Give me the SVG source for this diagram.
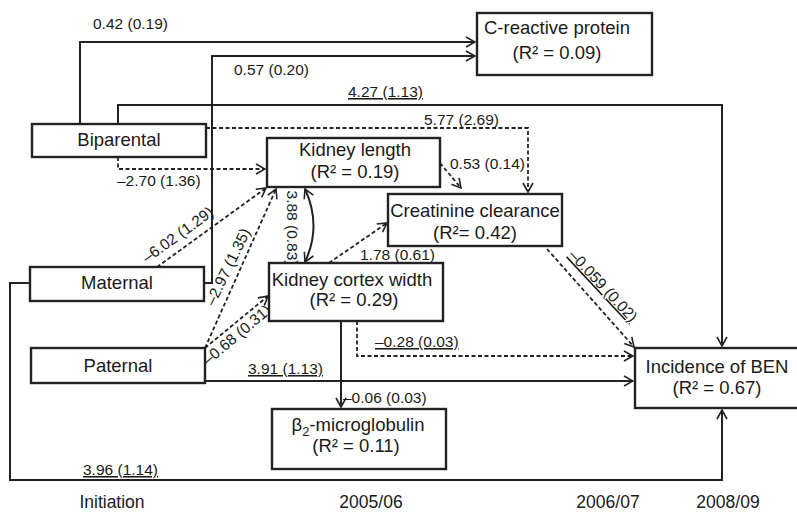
<svg xmlns="http://www.w3.org/2000/svg" width="797" height="514" viewBox="0 0 797 514">
<defs>
<marker id="ah" viewBox="0 0 12 12" refX="11" refY="6" markerWidth="12" markerHeight="12" markerUnits="userSpaceOnUse" orient="auto-start-reverse">
<path d="M2,1 L11,6 L2,11" fill="none" stroke="#222" stroke-width="1.6"/>
</marker>
</defs>
<style>
.box{fill:#fff;stroke:#222;stroke-width:2.4}
.nt{font-family:"Liberation Sans",Arial,sans-serif;font-size:18.5px;fill:#1a1a1a;text-anchor:middle}
.lb{font-family:"Liberation Sans",Arial,sans-serif;font-size:15.5px;fill:#1a1a1a}
.ul{text-decoration:underline}
.ax{font-family:"Liberation Sans",Arial,sans-serif;font-size:17.5px;fill:#1a1a1a;text-anchor:middle}
.s{fill:none;stroke:#222;stroke-width:2;marker-end:url(#ah)}
.d{fill:none;stroke:#222;stroke-width:1.8;stroke-dasharray:4 2.5;marker-end:url(#ah)}
</style>
<rect width="797" height="514" fill="#fff"/>
<g id="connectors">
<path class="s" d="M80,124 V42 H475"/>
<path class="s" d="M204,283 H212 V56 H475"/>
<path class="s" d="M118,124 V105 H722 V346"/>
<path class="d" d="M206,128 H528 V192"/>
<path class="d" d="M118,157 V169 H265"/>
<path class="d" d="M157,267 L266,188"/>
<path class="d" d="M205,348 L276,189"/>
<path class="d" d="M205,348 L268,296"/>
<path class="s" d="M305,189 Q322,226 305,262" style="marker-start:url(#ah)"/>
<path class="d" d="M440,163 L461,188"/>
<path class="d" d="M329,263 L387,223"/>
<path class="d" d="M547,249 L634,347"/>
<path class="d" d="M357,321 V356 H633"/>
<path class="s" d="M205,381 H633"/>
<path class="s" d="M341,321 V407"/>
<path class="s" d="M30,283 H10 V480 H722 V410"/>
<text class="lb" x="93" y="29">0.42 (0.19)</text>
<text class="lb" x="234" y="75">0.57 (0.20)</text>
<text class="lb ul" x="348" y="97">4.27 (1.13)</text>
<text class="lb" x="424" y="125">5.77 (2.69)</text>
<text class="lb" x="117" y="186">–2.70 (1.36)</text>
<text class="lb" x="450" y="169">0.53 (0.14)</text>
<text class="lb" x="360" y="260">1.78 (0.61)</text>
<text class="lb ul" x="375" y="347">–0.28 (0.03)</text>
<text class="lb ul" x="248" y="374">3.91 (1.13)</text>
<text class="lb" x="343" y="403">–0.06 (0.03)</text>
<text class="lb ul" x="83" y="475">3.96 (1.14)</text>
<text class="lb" transform="translate(178,235) rotate(-36)" x="0" y="5" text-anchor="middle">–6.02 (1.29)</text>
<text class="lb" transform="translate(228,267) rotate(-64)" x="0" y="5" text-anchor="middle">–2.97 (1.35)</text>
<text class="lb" transform="translate(237,335) rotate(-40)" x="0" y="5" text-anchor="middle">–0.68 (0.31)</text>
<text class="lb ul" transform="translate(603,286) rotate(47)" x="0" y="5" text-anchor="middle">–0.059 (0.02)</text>
<text class="lb" transform="translate(292,228) rotate(90)" x="0" y="5" text-anchor="middle">3.88 (0.83)</text>
</g>
<g id="crp">
<rect class="box" x="477" y="13" width="175" height="62"/>
<text class="nt" x="557" y="34">C-reactive protein</text>
<text class="nt" x="557" y="59">(R² = 0.09)</text>
</g>
<g id="biparental">
<rect class="box" x="32" y="124" width="174" height="33"/>
<text class="nt" x="119" y="146">Biparental</text>
</g>
<g id="kidney-length">
<rect class="box" x="267" y="138" width="173" height="49"/>
<text class="nt" x="355" y="156">Kidney length</text>
<text class="nt" x="355" y="178">(R² = 0.19)</text>
</g>
<g id="creatinine">
<rect class="box" x="388" y="194" width="174" height="52"/>
<text class="nt" x="475" y="217">Creatinine clearance</text>
<text class="nt" x="475" y="239">(R²= 0.42)</text>
</g>
<g id="maternal">
<rect class="box" x="30" y="267" width="174" height="34"/>
<text class="nt" x="117" y="289">Maternal</text>
</g>
<g id="paternal">
<rect class="box" x="31" y="348" width="174" height="35"/>
<text class="nt" x="118" y="372">Paternal</text>
</g>
<g id="kidney-cortex">
<rect class="box" x="269" y="263" width="174" height="58"/>
<text class="nt" x="352" y="286">Kidney cortex width</text>
<text class="nt" x="354" y="306">(R² = 0.29)</text>
</g>
<g id="ben">
<rect class="box" x="635" y="348" width="200" height="60"/>
<text class="nt" x="717" y="373">Incidence of BEN</text>
<text class="nt" x="717" y="394">(R² = 0.67)</text>
</g>
<g id="b2m">
<rect class="box" x="272" y="409" width="174" height="60"/>
<text class="nt" x="358" y="431">β<tspan dy="5" font-size="13">2</tspan><tspan dy="-5">-microglobulin</tspan></text>
<text class="nt" x="356" y="452">(R² = 0.11)</text>
</g>
<g id="timeline">
<text class="ax" x="112" y="508">Initiation</text>
<text class="ax" x="371" y="508">2005/06</text>
<text class="ax" x="608" y="508">2006/07</text>
<text class="ax" x="728" y="508">2008/09</text>
</g>
</svg>
